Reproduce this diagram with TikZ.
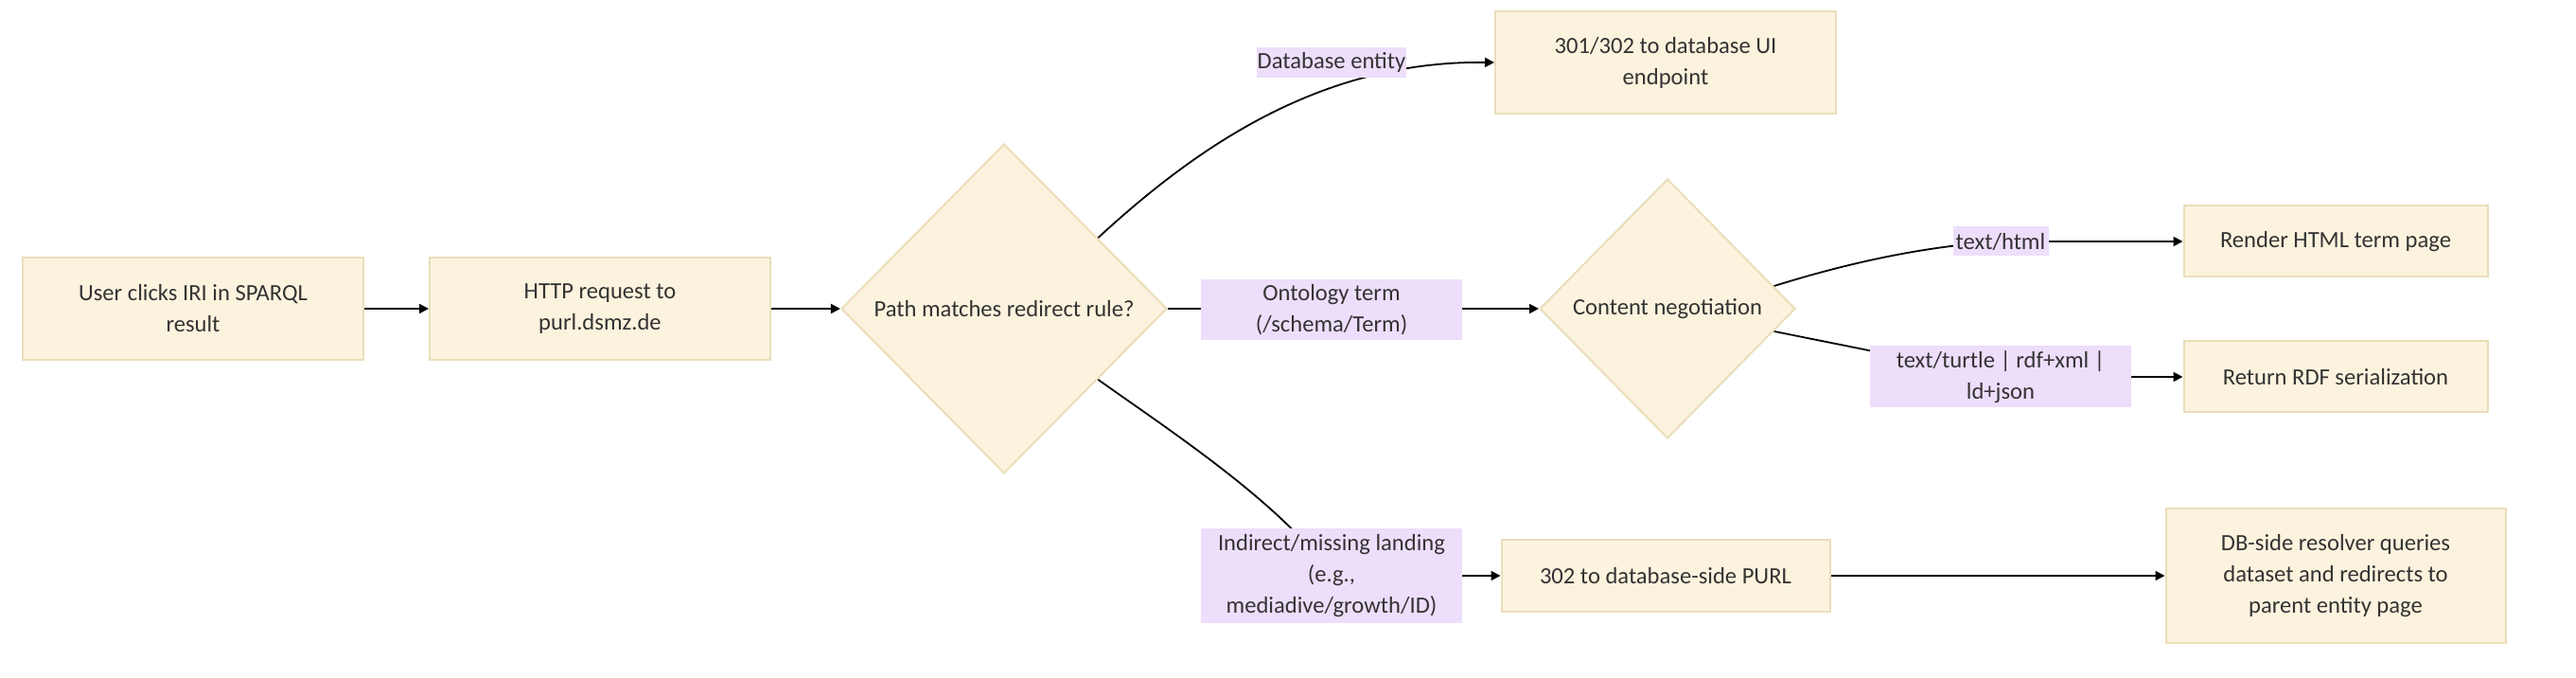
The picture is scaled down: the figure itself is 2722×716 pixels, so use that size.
\documentclass[tikz,border=0pt]{standalone}
\usepackage{fontspec}
\setmainfont{Carlito}
\usetikzlibrary{shapes,arrows.meta}
\definecolor{boxfill}{RGB}{252,243,222}
\definecolor{boxdraw}{RGB}{234,222,186}
\definecolor{lblfill}{RGB}{237,222,251}
\definecolor{txt}{RGB}{51,51,51}
\tikzstyle{block} = [rectangle, draw=boxdraw, fill=boxfill, line width=1pt,
    text=txt, align=center, inner sep=0pt]
\tikzstyle{decision} = [diamond, draw=boxdraw, fill=boxfill, line width=1pt,
    text=txt, align=center, inner sep=0pt, shape aspect=1]
\tikzstyle{elabel} = [rectangle, fill=lblfill, text=txt, align=center, inner sep=0pt]
\tikzstyle{line} = [draw, line width=0.9pt, -{Triangle[length=5pt,width=5pt]}]
\pgfdeclarelayer{bg}
\pgfsetlayers{bg,main}

\begin{document}
\begin{tikzpicture}[x=0.5pt, y=-0.5pt, font=\fontsize{12.3}{16.5}\selectfont]
  \useasboundingbox (0,0) rectangle (2722,716);
  % main row
  \node [block, minimum width=180pt, minimum height=54pt] (user) at (204,326) {User clicks IRI in SPARQL\\result};
  \node [block, minimum width=180pt, minimum height=54pt] (req) at (634,326) {HTTP request to\\purl.dsmz.de};
  \node [decision, minimum width=172pt, minimum height=174pt] (rule) at (1061,326) {Path matches redirect rule?};
  \node [decision, minimum width=135pt, minimum height=137pt] (neg) at (1762,326) {Content negotiation};
  % targets
  \node [block, minimum width=180pt, minimum height=54pt] (ui) at (1760,66) {301/302 to database UI\\endpoint};
  \node [block, minimum width=160.5pt, minimum height=37.5pt] (html) at (2468,255) {Render HTML term page};
  \node [block, minimum width=160.5pt, minimum height=37.5pt] (rdf) at (2468,398) {Return RDF serialization};
  \node [block, minimum width=173.5pt, minimum height=37.5pt] (dbpurl) at (1760,608) {302 to database-side PURL};
  \node [block, minimum width=179.5pt, minimum height=70.5pt] (resolver) at (2468,608) {DB-side resolver queries\\dataset and redirects to\\parent entity page};
  % edge labels
  \node [elabel, minimum width=79pt, minimum height=16pt] (lentity) at (1407,66) {Database entity};
  \node [elabel, minimum width=138pt, minimum height=32pt] (lterm) at (1407,327) {Ontology term\\(/schema/Term)};
  \node [elabel, minimum width=138pt, minimum height=49.5pt] (lmiss) at (1407,608) {Indirect/missing landing\\(e.g.,\\mediadive/growth/ID)};
  \node [elabel, minimum width=50.5pt, minimum height=15.5pt] (lhtml) at (2114,255) {text/html};
  \node [elabel, minimum width=138pt, minimum height=32.5pt] (lrdf) at (2114,398) {text/turtle | rdf+xml |\\ld+json};

  \begin{pgfonlayer}{bg}
    \path [line] (user) -- (req);
    \path [line] (req) -- (rule);
    \path [line] (rule) -- (neg);
    \path [line] (rule.37) .. controls (1270,150) and (1400,64) .. (ui.west);
    \path [line] (rule.-37) .. controls +(70,50) and +(-50,-75) .. (lmiss.center) -- (dbpurl.west);
    \path [line] (neg.12) .. controls +(80,-25) and +(-80,5) .. (lhtml.center) -- (html.west);
    \path [line] (neg.-12) -- (lrdf.center) -- (rdf.west);
    \path [line] (dbpurl) -- (resolver);
  \end{pgfonlayer}
\end{tikzpicture}
\end{document}
